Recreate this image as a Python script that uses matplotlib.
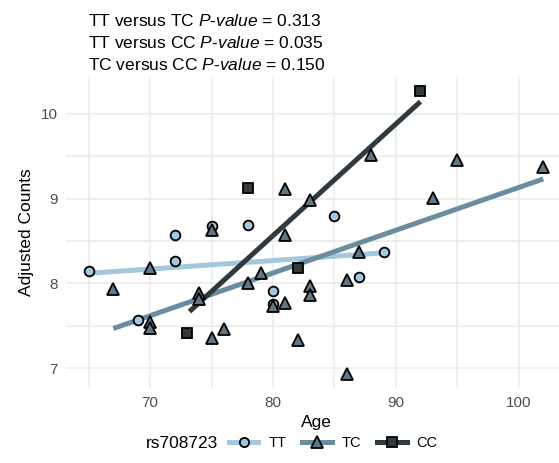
import matplotlib.pyplot as plt
from matplotlib.lines import Line2D

plt.rcParams['font.family'] = ['Liberation Sans', 'DejaVu Sans']
plt.rcParams['mathtext.fontset'] = 'custom'
plt.rcParams['mathtext.it'] = 'Liberation Sans:italic'
plt.rcParams['mathtext.rm'] = 'Liberation Sans'

# Genotype groups
tt_age = [65, 69, 72, 72, 75, 78, 80, 80, 85, 87, 89]
tt_counts = [8.15, 7.57, 8.57, 8.26, 8.68, 8.69, 7.91, 7.76, 8.80, 8.08, 8.37]

tc_age = [67, 70, 70, 70, 74, 74, 75, 75, 76, 78, 79, 80, 81, 81, 81, 82,
          83, 83, 83, 86, 86, 87, 88, 93, 95, 102]
tc_counts = [7.93, 8.18, 7.55, 7.48, 7.89, 7.82, 7.36, 8.63, 7.46, 8.01, 8.12,
             7.74, 7.77, 9.11, 8.57, 7.34, 8.98, 7.97, 7.87, 6.94, 8.04, 8.37,
             9.51, 9.01, 9.45, 9.37]

cc_age = [73, 78, 82, 92]
cc_counts = [7.42, 9.12, 8.18, 10.26]

# Fitted regression lines (end points)
tt_fit_x, tt_fit_y = [65, 89], [8.12, 8.36]
tc_fit_x, tc_fit_y = [67, 102], [7.47, 9.23]
cc_fit_x, cc_fit_y = [73.2, 92], [7.67, 10.14]

p_labels = ['TT versus TC', 'TT versus CC', 'TC versus CC']
p_values = [0.313, 0.035, 0.150]

groups = [
    ('TT', tt_age, tt_counts, tt_fit_x, tt_fit_y, '#a3c7dd', '#a3c7dd', 'o', 7),
    ('TC', tc_age, tc_counts, tc_fit_x, tc_fit_y, '#6c8c9f', '#5f7786', '^', 8.5),
    ('CC', cc_age, cc_counts, cc_fit_x, cc_fit_y, '#2f3a40', '#333a3e', 's', 7),
]

fig = plt.figure(figsize=(5.59, 4.63), dpi=100)
ax = fig.add_axes([66 / 559, 75 / 463, 500 / 559, 311 / 463])

for name, x, y, fx, fy, lc, fc, m, ms in groups:
    ax.plot(fx, fy, color=lc, lw=3.6, solid_capstyle='butt', zorder=3)
for name, x, y, fx, fy, lc, fc, m, ms in groups:
    ax.plot(x, y, ls='none', marker=m, ms=ms, mfc=fc, mec='black',
            mew=1.3, zorder=4)

ax.set_xlim(63.15, 103.85)
ax.set_ylim(6.77, 10.43)
ax.set_xticks([70, 80, 90, 100])
ax.set_yticks([7, 8, 9, 10])
ax.set_xticks([65, 75, 85, 95], minor=True)
ax.set_yticks([7.5, 8.5, 9.5], minor=True)
ax.grid(True, which='both', color='#ebebeb', lw=1.1)
ax.set_axisbelow(True)
for s in ax.spines.values():
    s.set_visible(False)
ax.tick_params(which='both', length=0, labelsize=11, labelcolor='#4d4d4d', pad=6)
ax.set_xlabel('Age', fontsize=12.5, labelpad=3)
ax.set_ylabel('Adjusted Counts', fontsize=12.5, labelpad=5)

# three p-value lines, one text each
for i, (lab, p) in enumerate(zip(p_labels, p_values)):
    fig.text(88 / 559, 1 - (20 + 22 * i) / 463,
             f'{lab} $\\mathit{{P}}$-$\\mathit{{value}}$ = {p:.3f}',
             fontsize=12.5, va='center_baseline', ha='left')

handles = [Line2D([], [], color=lc, lw=3.6, marker=m, ms=ms * 0.95, mfc=fc,
                  mec='black', mew=1.3) for _, _, _, _, _, lc, fc, m, ms in groups]
fig.text(146 / 559, 1 - 443 / 463, 'rs708723', fontsize=12.5, va='center', ha='left')
fig.legend(handles, [g[0] for g in groups], loc='center left',
           bbox_to_anchor=(229 / 559, 1 - 443 / 463), ncol=3, frameon=False,
           fontsize=10.5, handlelength=2.0, columnspacing=1.1, handletextpad=0.7,
           borderaxespad=0, borderpad=0)

fig.savefig('out.png', dpi=100)
